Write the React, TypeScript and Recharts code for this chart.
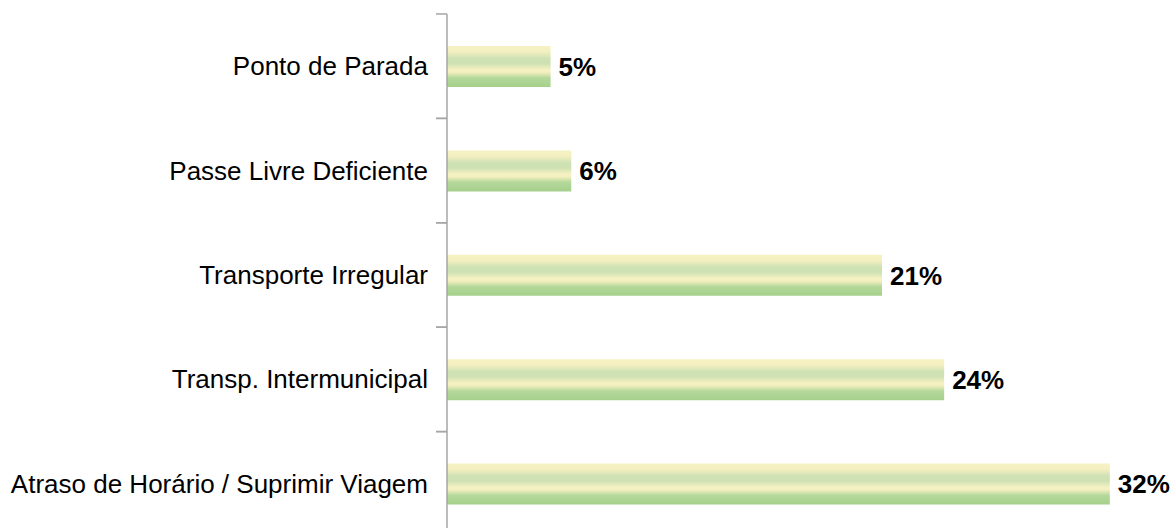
import { Bar, BarChart, LabelList, XAxis, YAxis } from "recharts";

const categories = [
  "Ponto de Parada",
  "Passe Livre Deficiente",
  "Transporte Irregular",
  "Transp. Intermunicipal",
  "Atraso de Horário / Suprimir Viagem",
];
const shares = [5, 6, 21, 24, 32];

const data = categories.map((name, i) => ({ name, value: shares[i] }));

const BAND = 104.5;

function CategoryTick(props: any) {
  const { x, y, payload } = props;
  const axisX = x + 8;
  return (
    <g>
      <line x1={axisX - 11} x2={axisX} y1={y - BAND / 2} y2={y - BAND / 2} stroke="#a6a6a6" strokeWidth={1.5} />
      <line x1={axisX - 11} x2={axisX} y1={y + BAND / 2} y2={y + BAND / 2} stroke="#a6a6a6" strokeWidth={1.5} />
      <text
        x={axisX - 19}
        y={y}
        dy={9}
        textAnchor="end"
        fontSize={26}
        fill="#000"
        fontFamily="'Liberation Sans', Arial, sans-serif"
      >
        {payload.value}
      </text>
    </g>
  );
}

export default function App() {
  return (
    <div
      style={{
        position: "fixed",
        top: 0,
        left: 0,
        width: 1173,
        height: 528,
        overflow: "hidden",
        background: "#fff",
      }}
    >
      <BarChart
        width={1173}
        height={540}
        data={data}
        layout="vertical"
        margin={{ top: 14, right: 1, left: 0, bottom: 4 }}
      >
        <defs>
          <linearGradient id="barFill" x1="0" y1="0" x2="0" y2="1">
            <stop offset="0%" stopColor="#f6f2c4" />
            <stop offset="14%" stopColor="#f4efc0" />
            <stop offset="30%" stopColor="#cfe2b4" />
            <stop offset="42%" stopColor="#cde1b2" />
            <stop offset="58%" stopColor="#f6f1c3" />
            <stop offset="64%" stopColor="#f3efbf" />
            <stop offset="78%" stopColor="#b4d89b" />
            <stop offset="100%" stopColor="#a5d08b" />
          </linearGradient>
        </defs>
        <XAxis type="number" domain={[0, 35]} hide />
        <YAxis
          type="category"
          dataKey="name"
          width={447}
          axisLine={{ stroke: "#a6a6a6", strokeWidth: 1.5 }}
          tickLine={false}
          tick={<CategoryTick />}
          interval={0}
        />
        <Bar dataKey="value" fill="url(#barFill)" barSize={41} isAnimationActive={false}>
          <LabelList
            dataKey="value"
            position="right"
            offset={8}
            formatter={(v: any) => `${v}%`}
            style={{
              fontSize: 26,
              fontWeight: "bold",
              fill: "#000",
              fontFamily: "'Liberation Sans', Arial, sans-serif",
            }}
          />
        </Bar>
      </BarChart>
    </div>
  );
}
